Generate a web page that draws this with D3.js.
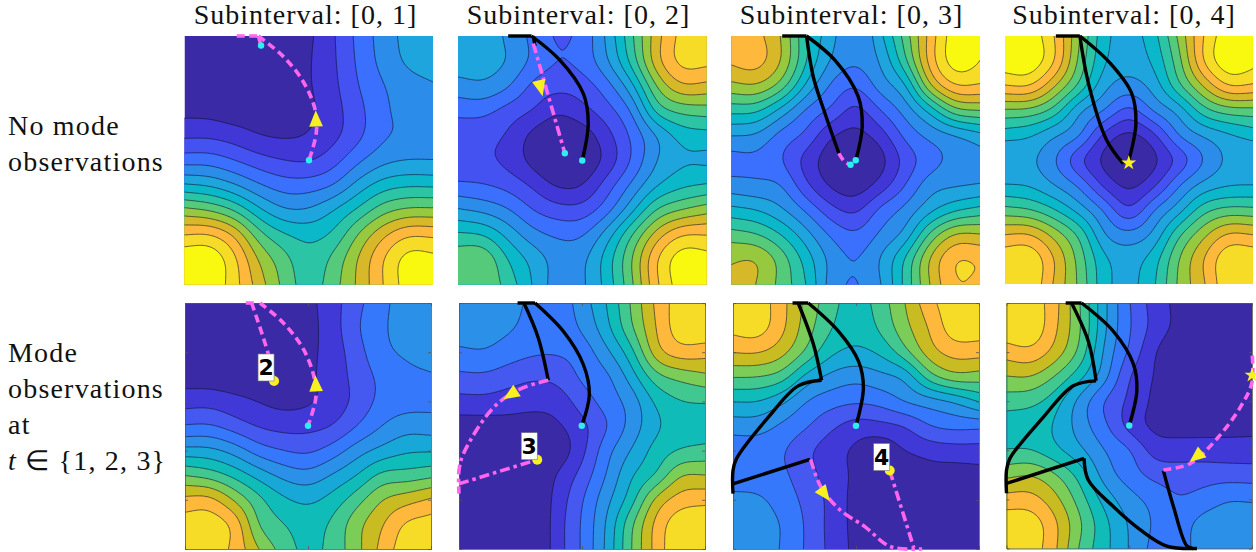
<!DOCTYPE html>
<html>
<head>
<meta charset="utf-8">
<script src="https://cdn.jsdelivr.net/npm/d3@7"></script>
<style>
  html, body { margin: 0; padding: 0; background: #fff; }
  text { font-family: "Liberation Serif", serif; fill: #111; }
</style>
</head>
<body>
<div id="chart"></div>
<script>
const titles = ["Subinterval: [0, 1]", "Subinterval: [0, 2]", "Subinterval: [0, 3]", "Subinterval: [0, 4]"];
const row_labels_top = ["No mode", "observations"];
const row_labels_bottom = ["Mode", "observations", "at"];

// parula bands, one colour per contour band
const colors_top = ["#3a2aa6","#4136d6","#4452f2","#3a70fd","#2b8cea","#1fa5dd","#0bb8c9","#2bc5a5","#55ca7b","#97c93f","#d6b829","#feb83b","#f6dc26","#f9f90f"];
const colors_bottom = ["#3a2aa6","#4138d8","#4558f0","#3578fc","#2a90e8","#18a8d8","#10bcb8","#40c890","#7ccc58","#c8bc22","#feb83b","#f6dc26"];

// field values on an 11x11 grid (rows top to bottom)
const field_a = [
  [-.5,-.5,-.4,-.2,.3,.8,1.9,3.3,4.45,5.35,5.7],
  [-.4,-.4,-.3,-.1,.3,.9,1.85,3.2,4.35,5.2,5.5],
  [0,-.05,0,.15,.5,.9,1.75,3,3.95,4.6,4.9],
  [.7,.65,.4,.45,.6,.8,1.6,2.7,3.8,4.4,4.55],
  [1.8,1.8,1.5,1,.85,1.05,1.7,2.75,3.85,4.2,4.4],
  [3.55,3.55,3,2.4,2,1.9,2.6,3.8,4.7,5,4.97],
  [6.1,5.85,5.1,4.1,3.5,3.5,4,5.4,6.5,6.85,6.8],
  [9.3,8.9,7.9,6.2,5.1,5.1,6,7.2,8.6,9.2,9.2],
  [12,12.1,10.9,8.4,7.15,6.7,7.2,9.1,10.8,11.9,11.8],
  [13.8,13.85,12.3,9.9,8.4,7.3,8.3,10.1,12,13.45,13.3],
  [13.8,13.85,12.4,10.5,8.7,7.5,8.6,10.2,12,13.45,13.3]
];
const field_b = [
  [5.8,5.8,4.75,3.75,2.85,3.3,5.2,7.8,10.6,12.3,12.3],
  [5.6,5.5,4.98,3.8,3,3.35,4.9,7.4,10.7,12.35,12.3],
  [4.6,4.85,4.15,2.75,2.3,2.5,3.6,5.7,9.1,10.9,10.7],
  [3.3,3.3,2.6,2,1.15,1.7,2.6,4.1,7.4,8.3,8.5],
  [2.35,2.35,1.9,.7,.1,.4,1.65,3.2,5,6.4,6.6],
  [2.1,2.2,1.7,.65,-.3,.1,1.3,3.1,5,5.85,5.8],
  [3.2,3.05,2.65,1.85,.85,.95,2.5,4.2,5.9,6.75,7.05],
  [5.1,4.75,4.1,3,2.4,2.4,3.6,5.7,8.1,9,9.6],
  [7.2,7,5.7,4.4,3.85,3.9,5.5,8,10.5,12,12],
  [8.7,8.9,7,5.7,4.6,4.75,6.5,9,12,13.6,13.4],
  [8.8,8.8,7.6,5.95,4.5,4.8,6.4,8.8,11.85,13.5,13.7]
];
const field_c = [
  [11.05,11.25,10,7.1,5.4,3.9,5.75,8.45,11.4,13.6,13.1],
  [11.2,11.45,10.05,7.05,4.9,4.15,5.1,7.8,11.5,13.6,13],
  [9.7,9.95,8.6,5.8,3.85,3.05,4.5,5.8,10,12,11.9],
  [7.3,7.2,5.6,3.8,2.85,1.6,3,4.4,6.3,8.7,9],
  [5,4.85,3.6,2.8,1.1,.65,1.5,3.3,4.3,4.9,5.6],
  [3.6,3.75,3.05,1.6,.35,-.3,.6,2.35,3.55,4.3,4.6],
  [4.4,4.2,4.05,2.2,.8,.35,1.4,3,4.6,4.85,5],
  [6.3,6,5.15,3.85,2.35,1.75,3.3,4.3,5.7,6.8,7.35],
  [8.45,8.1,7,5.4,3.85,3.15,4.2,5.3,8.3,10.2,10.1],
  [9.95,10.05,8.6,6.6,4.7,3.95,5.1,7.15,10.2,12.05,11.9],
  [10,10.05,8.6,7.05,4.5,3.9,4.9,7.3,10.05,11.95,11.7]
];
const field_d = [
  [13.4,13.6,12,9.05,6.3,5.6,6.6,9.2,12,13.6,13.2],
  [13.6,13.8,12.1,8.7,6.1,5.4,6.2,8.6,12.1,13.8,13.3],
  [12,12.1,10.1,7.8,5.3,4.6,5.4,7.8,10.1,12.1,11.9],
  [8.8,8.7,7.6,5.1,4.05,2.6,4.2,5.3,7.6,8.5,8.6],
  [6.4,6.1,5.1,4.2,1.7,.7,1.7,4.1,5.1,5.8,6.4],
  [4.98,5.2,4.05,2.1,.7,-.2,.7,2.2,3.95,5.2,4.98],
  [6,5.85,4.95,3.8,1.7,.7,1.7,3.9,5.3,5.85,5.95],
  [8.3,8,7,5.5,3.9,2,4,5.5,7.6,8.3,8.2],
  [11,11.1,9.6,7.8,5,4.3,5.2,7.8,9.7,11.2,11],
  [12.7,12.85,11,8.6,6.2,5.6,6.5,9,11,12.8,12.7],
  [12.75,12.85,10.8,8.8,6.3,5.7,6.8,9.2,10.8,12.8,12.75]
];
const field_e = [
  [-.5,-.5,-.4,-.2,.2,.7,1.6,2.7,3.75,4.4,4.6],
  [-.4,-.4,-.3,-.1,.2,.65,1.55,2.9,3.85,4.4,4.55],
  [-.1,-.1,-.1,.1,.4,.75,1.45,2.6,3.75,4.15,4.4],
  [.5,.45,.35,.45,.6,.85,1.4,2.4,3.25,3.75,3.9],
  [1.6,1.65,1.3,.95,.7,.85,1.4,2.3,3.3,3.6,3.7],
  [3.05,3.1,2.5,1.9,1.65,1.7,2,3,4,4.6,4.5],
  [5.35,5.3,4.6,3.5,3,2.8,3.45,4.55,5.3,5.85,5.9],
  [7.97,7.55,6.7,5.6,4.7,4.35,5.1,6,7.3,7.4,7.7],
  [10.3,10.4,8.9,7.3,6.2,5.8,6.4,7.6,9,9.6,10.2],
  [11.45,11.55,10.8,7.9,7.05,6.55,7.2,8.7,9.9,11.2,11.4],
  [11.45,11.55,10.75,9,7.55,6.7,7.35,8.7,10.3,11.6,11.8]
];
const field_f = [
  [4.5,4.5,4.3,3.8,3.4,4.5,6,8.1,10.2,11.5,11.8],
  [4.5,4.45,4.15,3.65,3.4,4.15,5.7,7.85,10,11.6,11.8],
  [3.8,3.95,3.5,3.15,3.1,3.4,4.75,6.6,9.6,10.6,10.4],
  [2.75,2.8,2.45,2.15,2.3,3.2,3.75,5.45,7.6,8.3,8.75],
  [1.65,1.7,1.5,1.3,1.4,2.5,3.45,4.4,6.2,6.95,7.05],
  [.5,.5,.6,.6,.85,1.7,2.9,4.35,5.8,6.45,6.45],
  [-.1,-.1,-.1,0,.3,1.7,3.65,5.05,6.4,7.05,7.3],
  [-.3,-.3,-.3,-.1,1.1,2.35,4.05,5.9,7,9,9],
  [-.4,-.4,-.3,-.1,1.4,2.9,4.7,6.5,9.3,10.5,10.7],
  [-.5,-.5,-.4,-.2,1.55,3.1,5.1,7.8,10.3,11.7,11.8],
  [-.5,-.5,-.4,-.2,1.55,3.1,5.2,7.95,10.35,11.9,12]
];
const field_g = [
  [11.6,11.6,10.3,8.7,7.35,6.5,7.5,9,10.7,11.6,11.6],
  [11.3,11.5,10.25,8.45,7.05,6.3,7.2,8.7,10.1,11.6,11.5],
  [10.05,10.1,9.35,7.8,6.2,5.8,6.2,7.7,9.6,10.4,10.4],
  [8.05,8,7.5,5.6,4.7,4.3,4.7,5.2,7.6,8.7,8.5],
  [6,6,5.2,3.95,3.4,3.15,3.35,4.1,4.5,5.05,6.1],
  [4.45,4.45,3.8,3.1,2.2,1.55,1.7,2,3,3.3,3.2],
  [3.4,3.45,3.1,2.2,1.4,.8,.2,1.05,1.4,1.55,1.6],
  [3.6,3.45,3.2,2.4,1.5,.8,-.2,-.1,.5,.5,.6],
  [4.2,4.2,3.55,2.7,1.7,.6,-.4,-.4,-.4,-.3,-.2],
  [4.5,4.5,3.95,2.85,1.65,.65,-.5,-.5,-.4,-.3,-.3],
  [4.6,4.6,3.9,2.85,1.7,.7,-.5,-.5,-.4,-.3,-.3]
];
const field_h = [
  [11.6,11.6,10.3,8,5.2,3.05,1.6,.7,0,-.3,-.4],
  [11.7,11.8,10.15,8.1,5.15,3.1,1.7,.7,0,-.3,-.4],
  [10.45,10.75,9.6,7.7,4.75,2.85,1.1,.1,-.1,-.3,-.4],
  [8.95,9,7.9,6.3,4.4,2,1,-.1,-.4,-.4,-.4],
  [7.45,7.3,6.4,4.6,2.9,1.8,.8,-.2,-.4,-.4,-.4],
  [6.5,6.4,5.9,4.5,3.2,1.6,.75,.55,.55,.6,.65],
  [7,7,6.2,5.2,4,3.15,1.6,1.5,1.5,1.45,1.45],
  [8.75,9,8.1,6.6,4.5,3.5,2.7,2.5,2.55,2.55,2.5],
  [10.4,10.4,9.3,7.5,5.6,4.4,3.7,3.05,3.4,3.95,3.9],
  [11.6,11.6,10.2,8.15,6.3,4.9,3.9,3.55,4.4,4.6,4.6],
  [11.3,11.5,10.15,7.8,6.3,4.95,3.7,3.6,4.4,4.7,4.8]
];

// trajectories in panel units (0-10, y down)
const black_paths = [
  [],
  [[[2.02,0],[2.96,0]], [[2.96,0],[4.1,.97],[5.04,2.31],[5.24,3.51],[5,5.01]], [[3.03,0],[3.1,.4]]],
  [[[2.04,0],[3.02,0]], [[3.02,0],[4.16,.97],[5.1,2.44],[5.26,3.65],[5,5.01]], [[3.02,0],[3.29,1.64],[3.76,3.11],[4.32,4.72]]],
  [[[2.05,0],[3.02,0]], [[3.02,0],[4.23,1.08],[5.1,2.29],[5.28,3.5],[5,4.99]], [[3.02,0],[3.36,1.89],[4.09,4.18],[4.77,5.15]]],
  [],
  [[[2.38,0],[3.09,0]], [[2.64,0],[3.22,1.41],[3.63,3.14]], [[3.09,0],[4.24,1.15],[5.05,2.49],[5.3,3.71],[4.99,4.99]]],
  [[[2.42,0],[3.06,0]], [[2.65,0],[3.27,1.68],[3.6,3.14]], [[3.06,0],[4.29,1.15],[5.1,2.36],[5.3,3.44],[5,4.99]],
   [[3.6,3.14],[2.65,3.37],[1.43,4.65],[.14,6.33],[0,6.81],[0,7.75]], [[0,7.35],[3.13,6.36]]],
  [[[2.41,0],[3.06,0]], [[2.65,0],[3.33,1.55],[3.65,3.17]], [[3.06,0],[4.35,1.15],[5.17,2.49],[5.31,3.57],[5,4.99]],
   [[3.65,3.17],[2.72,3.37],[1.5,4.65],[.14,6.33],[0,6.81],[0,7.75]], [[0,7.35],[3.16,6.33]],
   [[3.16,6.33],[3.33,7.21],[4.35,8.29],[5.44,9.23],[6.53,9.9],[7.76,10]], [[6.39,6.83],[6.8,8.29],[7.35,9.9],[7.6,10]]]
];
const pink_paths = [
  [[[2.1,0],[2.97,0]], [[2.97,0],[3.08,.38]], [[2.97,0],[3.98,.83],[4.78,1.84],[5.26,2.98],[5.3,3.92],[5.01,5]]],
  [[[3.03,.3],[4.3,4.72]]],
  [[[4.32,4.72],[4.56,5.06],[4.79,5.18]]],
  [],
  [[[2.47,0],[2.98,0]], [[2.71,0],[3.39,2.09],[3.62,3.17]], [[3.05,0],[4,.81],[4.82,1.89],[5.25,3.03],[5.32,3.84],[5,4.99]]],
  [[[3.63,3.14],[2.48,3.5],[1.4,4.25],[.18,6.13],[0,6.8],[0,7.75]], [[0,7.35],[3.18,6.37]]],
  [[[3.16,6.36],[3.54,7.41],[4.29,8.36],[5.37,9.1],[6.39,9.9],[7.69,10]], [[6.37,6.81],[7.35,9.95]]],
  [[[6.39,6.8],[7.48,6.54],[8.57,5.53],[9.52,4.25],[10,3.23],[10,2.02]]]
];
const cyan_dots = [[[3.08,.38],[5.01,5]], [[4.3,4.72],[5,5.01]], [[4.79,5.18],[5,5]], [], [[5,4.99]], [[4.99,4.99]], [[5,4.99]], [[5,4.99]]];
// direction arrows: from, to
const arrows = [[[5.3,3.85],[5.28,3.0]], [[3.2,1.6],[3.4,2.4]], null, null, [[5.34,3.8],[5.3,2.95]], [[2.6,3.4],[1.75,3.95]], [[3.3,7.2],[4.05,8.2]], [[8.3,5.8],[7.3,6.6]]];
const obs_points = [null, null, null, null, [3.62,3.17,"2"], [3.18,6.37,"3"], [6.37,6.81,"4"], null];
const star_points = [null, null, null, [4.99,5.12], null, null, null, [10,2.94]];

const fields = [field_a, field_b, field_c, field_d, field_e, field_f, field_g, field_h];

const WIDTH = 1256, HEIGHT = 552;
const lefts = [184.5, 458, 731.5, 1005, 185, 459, 733, 1006.5];
const tops = [36, 36, 36, 36, 303, 303, 303, 303];
const sizes = [248.5, 248.5, 248.5, 248, 246, 246, 246, 245.5];
const PAD = 2, CELLS = 20, UP = (10 + 2*PAD)*CELLS + 1;

// catmull-rom on the read grid so the contours come out smooth
function cr(p0, p1, p2, p3, t) {
  return .5 * (2*p1 + (p2-p0)*t + (2*p0-5*p1+4*p2-p3)*t*t + (3*p1-p0-3*p2+p3)*t*t*t);
}
// grid with ghost cells past the edge, so the blur does not flatten the borders
function extend(grid) {
  let n = grid.length, out = [];
  for (let j = -PAD; j < n+PAD; j++) {
    let row = [], jj = Math.max(0, Math.min(n-1, j));
    for (let i = -PAD; i < n+PAD; i++) {
      let ii = Math.max(0, Math.min(n-1, i));
      let sj = j < 0 ? grid[1][ii]-grid[0][ii] : grid[n-1][ii]-grid[n-2][ii];
      let si = i < 0 ? grid[jj][1]-grid[jj][0] : grid[jj][n-1]-grid[jj][n-2];
      row.push(grid[jj][ii] + (j-jj)*sj + (i-ii)*si);
    }
    out.push(row);
  }
  return out;
}
function upsample(grid) {
  let e = extend(grid), n = e.length, out = new Float64Array(UP*UP);
  let g = (j, i) => e[Math.max(0, Math.min(n-1, j))][Math.max(0, Math.min(n-1, i))];
  for (let y = 0; y < UP; y++) {
    let fy = y/CELLS, j = Math.min(n-2, Math.floor(fy)), ty = fy-j;
    for (let x = 0; x < UP; x++) {
      let fx = x/CELLS, i = Math.min(n-2, Math.floor(fx)), tx = fx-i;
      let r = [-1,0,1,2].map(d => cr(g(j+d,i-1), g(j+d,i), g(j+d,i+1), g(j+d,i+2), tx));
      out[y*UP+x] = cr(r[0], r[1], r[2], r[3], ty);
    }
  }
  // takes the wobble out of the hand read values
  d3.blur2({data: out, width: UP, height: UP}, 5);
  return out;
}

const svg = d3.select("#chart").append("svg")
  .attr("width", WIDTH).attr("height", HEIGHT)
  .style("display", "block");

const centers = [305.5, 578.5, 851.5, 1124];
titles.forEach((t, i) => {
  svg.append("text").attr("x", centers[i]).attr("y", 24)
    .attr("text-anchor", "middle").attr("font-size", 28).attr("letter-spacing", 1).text(t);
});
const label_g = svg.append("g").attr("font-size", 28).attr("letter-spacing", 1.2);
row_labels_top.forEach((t, i) => {
  label_g.append("text").attr("x", 8).attr("y", 135 + i*36).text(t);
});
row_labels_bottom.forEach((t, i) => {
  label_g.append("text").attr("x", 8).attr("y", 362 + i*36).text(t);
});
let math = label_g.append("text").attr("x", 8).attr("y", 470);
math.append("tspan").attr("font-style", "italic").text("t");
math.append("tspan").text(" \u2208 {1, 2, 3}");

const defs = svg.append("defs");
fields.forEach((grid, p) => {
  let size = sizes[p], bottom_row = p >= 4;
  let x = d3.scaleLinear().domain([0, 10]).range([0, size]);
  let y = d3.scaleLinear().domain([0, 10]).range([0, size]);
  let g = svg.append("g").attr("transform", `translate(${lefts[p]},${tops[p]})`);

  defs.append("clipPath").attr("id", "clip" + p)
    .append("rect").attr("width", size).attr("height", size);
  let clip = g.append("g").attr("clip-path", `url(#clip${p})`);

  let colors = bottom_row ? colors_bottom : colors_top;
  let thresholds = d3.range(1, colors.length);
  let contours = d3.contours().size([UP, UP]).thresholds(thresholds)(upsample(grid));
  let gx = v => x((v-.5)/CELLS - PAD), gy = v => y((v-.5)/CELLS - PAD);
  let path = d3.geoPath(d3.geoTransform({ point(a, b) { this.stream.point(gx(a), gy(b)); } }));

  clip.append("rect").attr("width", size).attr("height", size).attr("fill", colors[0]);
  clip.selectAll("path.band").data(contours).enter().append("path")
    .attr("class", "band")
    .attr("d", path)
    .attr("fill", d => colors[d.value])
    .attr("stroke", "#10102a").attr("stroke-width", .7).attr("stroke-opacity", .85);

  // only the bottom row has a visible axes box
  if (bottom_row) {
    let none = () => "";
    let frame = g.append("g").attr("class", "frame");
    frame.append("g").call(d3.axisTop(x).tickValues([5]).tickSize(-3).tickFormat(none));
    frame.append("g").attr("transform", `translate(0,${size})`).call(d3.axisBottom(x).tickValues([5]).tickSize(-3).tickFormat(none));
    frame.append("g").call(d3.axisLeft(y).tickValues([2,4,6,8]).tickSize(-3).tickFormat(none));
    frame.append("g").attr("transform", `translate(${size},0)`).call(d3.axisRight(y).tickValues([2,4,6,8]).tickSize(-3).tickFormat(none));
    frame.selectAll("path,line").attr("stroke", "#555").attr("stroke-width", .8);
  }

  let line = d3.line().x(d => x(d[0])).y(d => y(d[1])).curve(d3.curveCatmullRom);
  g.selectAll("path.black").data(black_paths[p]).enter().append("path")
    .attr("class", "black").attr("d", line)
    .attr("fill", "none").attr("stroke", "#000").attr("stroke-width", 3.4);
  let dash = (p == 1 || p == 5 || p == 6) ? "10,4,3.5,4" : "8,4.5";
  g.selectAll("path.pink").data(pink_paths[p]).enter().append("path")
    .attr("class", "pink").attr("d", line)
    .attr("fill", "none").attr("stroke", "#ff66ee").attr("stroke-width", 3.6)
    .attr("stroke-dasharray", dash);

  if (arrows[p]) {
    let a = arrows[p][0], b = arrows[p][1];
    let mx = (x(a[0])+x(b[0]))/2, my = (y(a[1])+y(b[1]))/2;
    let ang = Math.atan2(y(b[1])-y(a[1]), x(b[0])-x(a[0])) * 180/Math.PI + 90;
    g.append("path").attr("d", d3.symbol(d3.symbolTriangle, 90)())
      .attr("transform", `translate(${mx},${my}) rotate(${ang}) scale(.95,1.3)`)
      .attr("fill", "#f8f020");
  }

  g.selectAll("circle.cyan").data(cyan_dots[p]).enter().append("circle")
    .attr("class", "cyan")
    .attr("cx", d => x(d[0])).attr("cy", d => y(d[1])).attr("r", 3.2)
    .attr("fill", "#30eef0");

  if (star_points[p]) {
    g.append("path").attr("d", d3.symbol(d3.symbolStar, 70)())
      .attr("transform", `translate(${x(star_points[p][0])},${y(star_points[p][1])})`)
      .attr("fill", "#f8f020");
  }
  if (obs_points[p]) {
    let o = obs_points[p], ox = x(o[0]), oy = y(o[1]);
    g.append("circle").attr("cx", ox).attr("cy", oy).attr("r", 5).attr("fill", "#f8f020");
    g.append("rect").attr("x", ox-16).attr("y", oy-27).attr("width", 16).attr("height", 27)
      .attr("fill", "#fff").attr("stroke", "#777").attr("stroke-width", .6);
    g.append("text").attr("x", ox-8).attr("y", oy-5.5).attr("text-anchor", "middle")
      .style("font-family", "'DejaVu Sans', sans-serif").style("font-weight", "bold").style("fill", "#000")
      .attr("font-size", 22).text(o[2]);
  }
});
</script>
</body>
</html>
